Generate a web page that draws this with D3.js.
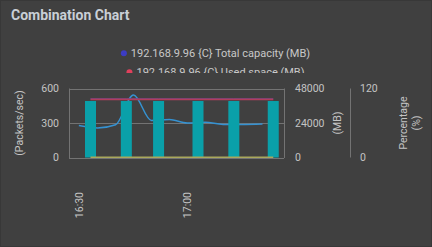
<!DOCTYPE html>
<html><head><meta charset="utf-8">
<script src="https://cdn.jsdelivr.net/npm/d3@7"></script>
<style>
html,body{margin:0;padding:0;background:#404040;}
svg{display:block;font-family:Roboto,"Noto Sans",sans-serif;}
</style></head>
<body><svg id="c" width="432" height="247"></svg>
<script>
const title = "Combination Chart";
const legendItems = ["192.168.9.96 {C} Total capacity (MB)", "192.168.9.96 {C} Used space (MB)"];
const legendColors = ["#3c3cc4", "#e0405c"];
const leftTicks = [0, 300, 600];
const mbTicks = [0, 24000, 48000];
const pctTicks = [0, 120];
const xTickLabels = ["16:30", "17:00"];
// bars (MB axis)
const barTimes = ["16:33", "16:43", "16:52", "17:03", "17:13", "17:24"];
const barValues = [39300, 39300, 39300, 39300, 39300, 39300];
const totalCapacity = [40800, 40800, 40800, 40800, 40800, 40800];
const usedSpace = [40400, 40400, 40400, 40400, 40400, 40400];
const percentValues = [0.6, 0.6, 0.6, 0.6, 0.6, 0.6];
// packets/sec curve (left axis)
const pktTimes = ["16:29:45", "16:35:00", "16:40:00", "16:45:00", "16:50:00", "16:55:00", "17:00:00", "17:05:00", "17:10:00", "17:15:00", "17:21:00"];
const pktValues = [278, 257, 285, 543, 322, 330, 300, 306, 288, 288, 292];

const svg = d3.select("#c");
const W = 432, H = 247;
const pt = s => { const p = s.split(":").map(Number); return new Date(2024, 0, 1, p[0], p[1], p[2] || 0); };

svg.append("rect").attr("width", W).attr("height", H).attr("fill", "#404040");
svg.append("rect").attr("x", 0.5).attr("y", 0.5).attr("width", W - 1).attr("height", H - 1).attr("fill", "none").attr("stroke", "#383838");

svg.append("text").attr("x", 11).attr("y", 20).attr("fill", "#c9cfd6")
  .attr("font-size", 14).attr("font-weight", 700).text(title);

// legend (clipped)
svg.append("clipPath").attr("id", "lc").append("rect").attr("x", 0).attr("y", 40).attr("width", W).attr("height", 33);
const lg = svg.append("g").attr("clip-path", "url(#lc)");
legendItems.forEach((t, i) => {
  const g = lg.append("g");
  const y = 57 + i * 19;
  const tx = g.append("text").attr("y", y).attr("fill", "#c8c8c8").attr("font-size", 11).text(t);
  const w = tx.node().getComputedTextLength();
  const x0 = W / 2 - (w + 9) / 2;
  tx.attr("x", x0 + 9);
  g.append("circle").attr("cx", x0 + 2).attr("cy", y - 3.8).attr("r", 3).attr("fill", legendColors[i]);
});

const x0 = 69, x1 = 284, yTop = 88.5, yBot = 157.5;
const x = d3.scaleTime().domain([pt("16:27"), pt("17:27")]).range([x0, x1]);
const yL = d3.scaleLinear().domain([0, 600]).range([yBot, yTop]);
const yM = d3.scaleLinear().domain([0, 48000]).range([yBot, yTop]);
const yP = d3.scaleLinear().domain([0, 120]).range([yBot, yTop]);

const gridC = "#737373", txtC = "#c4c4c4";
// gridlines
svg.append("g").selectAll("line").data(leftTicks).join("line")
  .attr("x1", x0).attr("x2", x1).attr("y1", d => Math.round(yL(d)) + 0.5).attr("y2", d => Math.round(yL(d)) + 0.5)
  .attr("stroke", gridC);
[x0, x1].forEach(xx => svg.append("line").attr("x1", xx + 0.5).attr("x2", xx + 0.5).attr("y1", yTop).attr("y2", yBot + 0.5).attr("stroke", gridC));
svg.append("line").attr("x1", 350.5).attr("x2", 350.5).attr("y1", yTop).attr("y2", yBot).attr("stroke", gridC);

// left axis labels
svg.append("g").selectAll("text").data(leftTicks).join("text")
  .attr("x", 59).attr("y", d => yL(d)).attr("dy", "0.35em").attr("text-anchor", "end")
  .attr("fill", txtC).attr("font-size", 10.5).text(d => d);
svg.append("text").attr("transform", `translate(23,${(yTop + yBot) / 2}) rotate(-90)`)
  .attr("text-anchor", "middle").attr("fill", txtC).attr("font-size", 10.5).text("(Packets/sec)");
// MB axis labels
svg.append("g").selectAll("text").data(mbTicks).join("text")
  .attr("x", 295).attr("y", d => yM(d)).attr("dy", "0.35em")
  .attr("fill", txtC).attr("font-size", 10.5).text(d => d);
svg.append("text").attr("transform", `translate(341,${(yTop + yBot) / 2}) rotate(-90)`)
  .attr("text-anchor", "middle").attr("fill", txtC).attr("font-size", 10.5).text("(MB)");
// percentage axis
svg.append("g").selectAll("text").data(pctTicks).join("text")
  .attr("x", 360).attr("y", d => yP(d)).attr("dy", "0.35em")
  .attr("fill", txtC).attr("font-size", 10.5).text(d => d);
svg.append("text").attr("transform", `translate(407,${(yTop + yBot) / 2}) rotate(-90)`)
  .attr("text-anchor", "middle").attr("fill", txtC).attr("font-size", 10.5).text("Percentage");
svg.append("text").attr("transform", `translate(420,${(yTop + yBot) / 2}) rotate(-90)`)
  .attr("text-anchor", "middle").attr("fill", txtC).attr("font-size", 10.5).text("(%)");

// x tick labels
svg.append("g").selectAll("text").data(xTickLabels).join("text")
  .attr("transform", d => `translate(${x(pt(d))},192) rotate(-90)`)
  .attr("text-anchor", "end").attr("dy", "0.35em")
  .attr("fill", txtC).attr("font-size", 10.5).text(d => d);

// packets curve
const pkt = pktTimes.map((t, i) => ({ t: pt(t), v: pktValues[i] }));
svg.append("path").datum(pkt)
  .attr("d", d3.line().x(d => x(d.t)).y(d => yL(d.v)).curve(d3.curveMonotoneX))
  .attr("fill", "none").attr("stroke", "#3592d2").attr("stroke-width", 1.5);

// bars
const bw = 11;
svg.append("g").selectAll("rect").data(barTimes).join("rect")
  .attr("x", d => x(pt(d)) - bw / 2).attr("width", bw)
  .attr("y", (d, i) => yM(barValues[i])).attr("height", (d, i) => yM(0) - yM(barValues[i]))
  .attr("fill", "#0aa0a9");

// capacity / used / percent lines
const lineOf = (vals, sc) => barTimes.map((t, i) => [x(pt(t)), sc(vals[i])]);
svg.append("path").attr("d", d3.line()(lineOf(percentValues, yP))).attr("fill", "none").attr("stroke", "#a9a85c").attr("stroke-width", 1.5);
svg.append("path").attr("d", d3.line()(lineOf(totalCapacity, yM))).attr("fill", "none").attr("stroke", "#5c48a8").attr("stroke-width", 1);
svg.append("path").attr("d", d3.line()(lineOf(usedSpace, yM))).attr("fill", "none").attr("stroke", "#b03e5c").attr("stroke-width", 1.8);
</script></body></html>
